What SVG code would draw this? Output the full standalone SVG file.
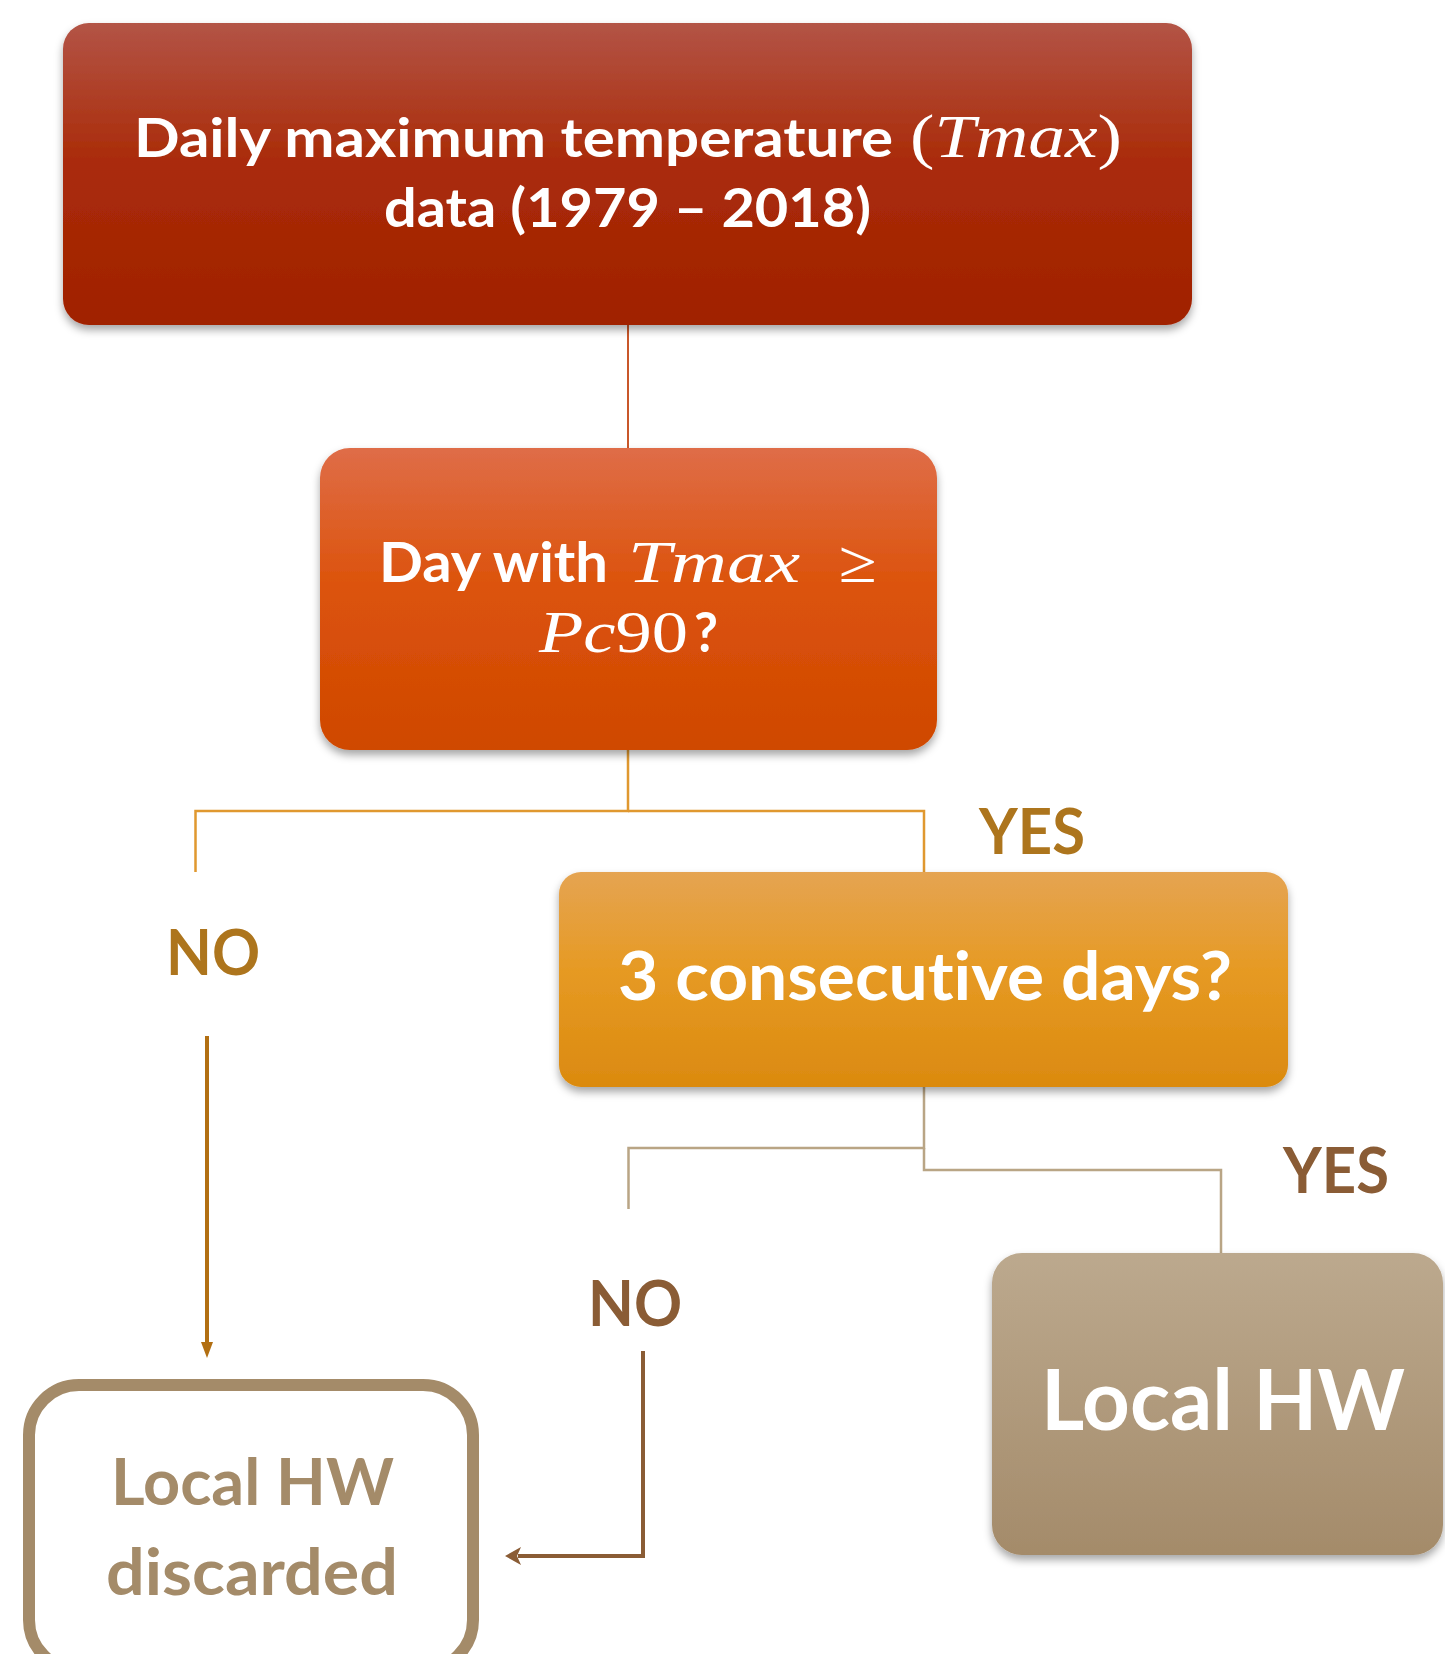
<svg xmlns="http://www.w3.org/2000/svg" width="1445" height="1654" viewBox="0 0 1445 1654">
<defs>
<linearGradient id="g1" x1="0" y1="0" x2="0" y2="1"><stop offset="0" stop-color="#b35446"/><stop offset="0.45" stop-color="#aa2c0a"/><stop offset="1" stop-color="#a02100"/></linearGradient>
<linearGradient id="g2" x1="0" y1="0" x2="0" y2="1"><stop offset="0" stop-color="#df6d48"/><stop offset="0.45" stop-color="#dc530c"/><stop offset="1" stop-color="#cf4800"/></linearGradient>
<linearGradient id="g3" x1="0" y1="0" x2="0" y2="1"><stop offset="0" stop-color="#e5a452"/><stop offset="0.45" stop-color="#e69a24"/><stop offset="1" stop-color="#db8a0f"/></linearGradient>
<linearGradient id="g4" x1="0" y1="0" x2="0" y2="1"><stop offset="0" stop-color="#bca98e"/><stop offset="1" stop-color="#a48b6a"/></linearGradient>
<filter id="sh" x="-5%" y="-5%" width="110%" height="120%"><feDropShadow dx="0" dy="5" stdDeviation="4" flood-color="#000" flood-opacity="0.35"/></filter>
</defs>
<style>
text{font-variant-ligatures:none}
.t{font-family:Lato,"Open Sans",sans-serif;font-weight:bold;fill:#fff}
.m{font-family:"Liberation Serif","DejaVu Serif",serif;fill:#fff}
.lb1{font-family:Lato,"Open Sans",sans-serif;font-weight:bold;fill:#ad751d;font-size:64px}
.lb2{font-family:Lato,"Open Sans",sans-serif;font-weight:bold;fill:#8a5c35;font-size:64px}
.c1{stroke:#c9572a;stroke-width:2;fill:none}
.c2{stroke:#e0982f;stroke-width:2.5;fill:none}
.c3{stroke:#b9a585;stroke-width:2.5;fill:none}
</style>
<g id="connectors">
<line class="c1" x1="628" y1="325" x2="628" y2="448"/>
<polyline class="c2" points="628,750 628,811 195.5,811 195.5,872"/>
<polyline class="c2" points="628,811 924,811 924,872"/>
<polyline class="c3" points="924,1087 924,1148 628.5,1148 628.5,1209"/>
<polyline class="c3" points="924,1148 924,1170 1221,1170 1221,1253"/>
<line x1="207" y1="1036" x2="207" y2="1344" stroke="#b26f12" stroke-width="4"/>
<path d="M201,1342 L207,1358 L213,1342 Z" fill="#b26f12"/>
<polyline points="643,1351 643,1556 518,1556" fill="none" stroke="#8a5c35" stroke-width="4"/>
<path d="M505,1556 L521,1547 L517,1556 L521,1565 Z" fill="#8a5c35"/>
</g>
<g id="labels">
<text class="lb1" x="979" y="854" textLength="106" lengthAdjust="spacingAndGlyphs">YES</text>
<text class="lb1" x="166" y="975" textLength="94" lengthAdjust="spacingAndGlyphs">NO</text>
<text class="lb2" x="1283" y="1193" textLength="106" lengthAdjust="spacingAndGlyphs">YES</text>
<text class="lb2" x="588" y="1326" textLength="94" lengthAdjust="spacingAndGlyphs">NO</text>
</g>
<g id="node1">
<rect x="63" y="23" width="1129" height="302" rx="26" fill="url(#g1)" filter="url(#sh)"/>
<text class="t" x="134" y="157" font-size="53" textLength="759" lengthAdjust="spacingAndGlyphs">Daily maximum temperature</text>
<text class="m" x="910" y="157" font-size="61" textLength="212" lengthAdjust="spacingAndGlyphs">(<tspan font-style="italic">Tmax</tspan>)</text>
<text class="t" x="384" y="227" font-size="53" textLength="487" lengthAdjust="spacingAndGlyphs">data (1979 – 2018)</text>
</g>
<g id="node2">
<rect x="320" y="448" width="617" height="302" rx="30" fill="url(#g2)" filter="url(#sh)"/>
<text class="t" x="379" y="582" font-size="56" textLength="229" lengthAdjust="spacingAndGlyphs">Day with</text>
<text class="m" x="628" y="582" font-size="60" font-style="italic" textLength="172" lengthAdjust="spacingAndGlyphs">Tmax</text>
<text class="m" x="839" y="582" font-size="60" textLength="38" lengthAdjust="spacingAndGlyphs">≥</text>
<text class="m" x="539" y="652" font-size="60" textLength="149" lengthAdjust="spacingAndGlyphs"><tspan font-style="italic">Pc</tspan>90</text>
<text class="t" x="694" y="652" font-size="56" textLength="24" lengthAdjust="spacingAndGlyphs">?</text>
</g>
<g id="node3">
<rect x="559" y="872" width="729" height="215" rx="22" fill="url(#g3)" filter="url(#sh)"/>
<text class="t" x="618" y="1000" font-size="66" textLength="614" lengthAdjust="spacingAndGlyphs">3 consecutive days?</text>
</g>
<g id="node4">
<rect x="992" y="1253" width="451" height="302" rx="30" fill="url(#g4)" filter="url(#sh)"/>
<text class="t" x="1041" y="1430" font-size="84" textLength="364" lengthAdjust="spacingAndGlyphs">Local HW</text>
</g>
<g id="node5">
<rect x="29" y="1385" width="444" height="285" rx="50" fill="#fff" stroke="#a48b69" stroke-width="12"/>
<text x="111" y="1505" font-family="Lato, 'Open Sans', sans-serif" font-weight="bold" font-size="65" fill="#a48b69" textLength="283" lengthAdjust="spacingAndGlyphs">Local HW</text>
<text x="106" y="1595" font-family="Lato, 'Open Sans', sans-serif" font-weight="bold" font-size="65" fill="#a48b69" textLength="292" lengthAdjust="spacingAndGlyphs">discarded</text>
</g>
</svg>
